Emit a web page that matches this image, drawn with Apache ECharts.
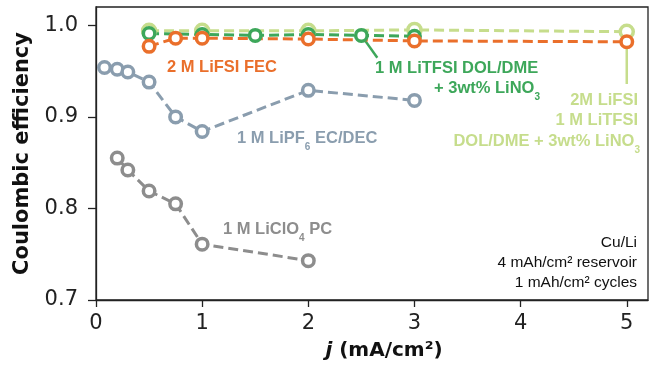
<!DOCTYPE html>
<html>
<head>
<meta charset="utf-8">
<script src="https://cdn.jsdelivr.net/npm/echarts@6/dist/echarts.min.js"></script>
<style>
  html, body { margin: 0; padding: 0; background: #fff; }
  #main { width: 664px; height: 377px; }
</style>
</head>
<body>
<div id="main"></div>
<script>
// current density (mA/cm2) and coulombic efficiency
var xLightGreen = [0.5, 1.0, 2.0, 3.0, 5.0];
var yLightGreen = [0.994, 0.994, 0.994, 0.995, 0.993];

var xGreen = [0.5, 1.0, 1.5, 2.0, 2.5, 3.0];
var yGreen = [0.991, 0.990, 0.989, 0.990, 0.989, 0.988];

var xOrange = [0.5, 0.75, 1.0, 2.0, 3.0, 5.0];
var yOrange = [0.977, 0.986, 0.986, 0.985, 0.983, 0.982];

var xPF6 = [0.08, 0.2, 0.3, 0.5, 0.75, 1.0, 2.0, 3.0];
var yPF6 = [0.954, 0.952, 0.949, 0.938, 0.900, 0.884, 0.929, 0.918];

var xClO4 = [0.2, 0.3, 0.5, 0.75, 1.0, 2.0];
var yClO4 = [0.855, 0.842, 0.819, 0.805, 0.761, 0.743];

var xTicks = [0, 1, 2, 3, 4, 5];
var yTicks = [0.7, 0.8, 0.9, 1.0];

// callout leader lines (data coords)
var greenLeader = [[2.5, 0.989], [2.65, 0.9645]];
var lightLeader = [[5.0, 0.978], [5.0, 0.936]];

var cLight = '#c6dd8c';
var cGreen = '#3da75a';
var cOrange = '#ea6f2b';
var cBlue = '#8a9dae';
var cGray = '#8d8d8d';

function pairs(xs, ys) {
  var out = [];
  for (var i = 0; i < xs.length; i++) out.push([xs[i], ys[i]]);
  return out;
}

function mkSeries(name, xs, ys, color, size) {
  return {
    name: name,
    type: 'line',
    data: pairs(xs, ys),
    symbol: 'circle',
    symbolSize: size || 11.5,
    lineStyle: { color: color, width: 3, type: [10, 5] },
    itemStyle: { color: '#fff', borderColor: color, borderWidth: 3.5 },
    emphasis: { disabled: true },
    animation: false
  };
}

function leader(pts, color) {
  return {
    type: 'line',
    data: pts,
    symbol: 'none',
    lineStyle: { color: color, width: 2.5 },
    animation: false,
    silent: true
  };
}

var chart = echarts.init(document.getElementById('main'));

var subStyle = { fontSize: 10, verticalAlign: 'bottom', padding: [0, 0, -6, 0] };
var annFont = 'Liberation Sans';

function ann(x, y, text, color, align, rich) {
  var r = {};
  for (var k in rich) r[k] = Object.assign({ fill: color, fontFamily: annFont, fontWeight: 'bold' }, rich[k]);
  return {
    type: 'text',
    x: x, y: y,
    style: {
      text: text,
      fill: color,
      font: 'bold 16.5px ' + annFont,
      align: align || 'left',
      verticalAlign: 'middle',
      rich: r
    },
    z: 100
  };
}

function note(y, text) {
  return {
    type: 'text', x: 637, y: y,
    style: { text: text, fill: '#111', font: '15.5px Liberation Sans', align: 'right', verticalAlign: 'middle' },
    z: 100
  };
}

var option = {
  backgroundColor: '#fff',
  grid: {
    left: 96, right: 16, top: 7, bottom: 77,
    show: true, borderColor: '#222', borderWidth: 1.3
  },
  xAxis: {
    type: 'value',
    min: 0, max: 5.2,
    name: '{i|j} (mA/cm²)',
    nameLocation: 'middle',
    nameGap: 41,
    nameTextStyle: {
      fontFamily: 'DejaVu Sans', fontWeight: 'bold', fontSize: 20, color: '#111',
      padding: [0, 0, 0, 24],
      rich: { i: { fontFamily: 'DejaVu Sans', fontWeight: 'bold', fontStyle: 'italic', fontSize: 20, color: '#111' } }
    },
    splitLine: { show: false },
    axisLine: { lineStyle: { color: '#222', width: 1.3 } },
    axisTick: { length: 7, lineStyle: { color: '#222', width: 1.3 }, customValues: xTicks },
    axisLabel: {
      customValues: xTicks,
      fontFamily: 'DejaVu Sans', fontSize: 21, color: '#222', margin: 13
    }
  },
  yAxis: {
    type: 'value',
    min: 0.7, max: 1.02,
    name: 'Coulombic efficiency',
    nameLocation: 'middle',
    nameGap: 63,
    nameTextStyle: { fontFamily: 'DejaVu Sans', fontWeight: 'bold', fontSize: 21, color: '#111' },
    splitLine: { show: false },
    axisLine: { show: true, lineStyle: { color: '#222', width: 1.3 } },
    axisTick: { show: true, length: 8, lineStyle: { color: '#222', width: 1.3 }, customValues: yTicks },
    axisLabel: {
      customValues: yTicks,
      formatter: function (v) { return v.toFixed(1); },
      fontFamily: 'DejaVu Sans', fontSize: 21, color: '#222', margin: 18
    }
  },
  series: [
    mkSeries('2M LiFSI 1M LiTFSI DOL/DME + 3wt% LiNO3', xLightGreen, yLightGreen, cLight, 13),
    leader(lightLeader, cLight),
    leader(greenLeader, cGreen),
    mkSeries('1 M LiTFSI DOL/DME + 3wt% LiNO3', xGreen, yGreen, cGreen),
    mkSeries('2 M LiFSI FEC', xOrange, yOrange, cOrange),
    mkSeries('1 M LiPF6 EC/DEC', xPF6, yPF6, cBlue),
    mkSeries('1 M LiClO4 PC', xClO4, yClO4, cGray)
  ],
  graphic: [
    ann(167, 67, '2 M LiFSI FEC', cOrange, 'left', {}),
    ann(375, 68, '1 M LiTFSI DOL/DME', cGreen, 'left', {}),
    ann(540, 88, '+ 3wt% LiNO{s|3}', cGreen, 'right', { s: subStyle }),
    ann(237, 138, '1 M LiPF{s|6} EC/DEC', cBlue, 'left', { s: subStyle }),
    ann(223, 229, '1 M LiClO{s|4} PC', cGray, 'left', { s: subStyle }),
    ann(638, 100, '2M LiFSI', cLight, 'right', {}),
    ann(638, 120, '1 M LiTFSI', cLight, 'right', {}),
    ann(640, 141, 'DOL/DME + 3wt% LiNO{s|3}', cLight, 'right', { s: subStyle }),
    note(243, 'Cu/Li'),
    note(263, '4 mAh/cm² reservoir'),
    note(283, '1 mAh/cm² cycles')
  ]
};

chart.setOption(option);
</script>
</body>
</html>
